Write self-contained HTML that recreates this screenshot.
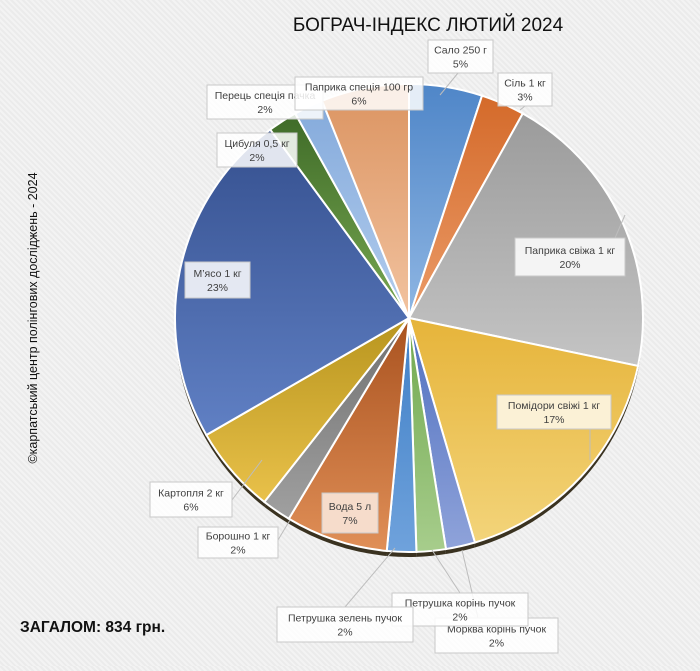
<!DOCTYPE html>
<html><head><meta charset="utf-8"><style>
html,body{margin:0;padding:0}
body{width:700px;height:666px;overflow:hidden;font-family:"Liberation Sans","Noto Sans CJK SC",sans-serif;
background:repeating-linear-gradient(45deg,#f3f3f3 0 2px,#ebebeb 2px 4px);}
</style></head><body>
<svg width="700" height="666" viewBox="0 0 700 666" id="chart">
<defs id="defs"></defs>
<text x="428" y="31" text-anchor="middle" font-size="19" fill="#111">БОГРАЧ-ІНДЕКС ЛЮТИЙ 2024</text>
<text transform="translate(37,318) rotate(-90)" text-anchor="middle" font-size="12.5" fill="#111">©карпатський центр полінгових досліджень - 2024</text>
<text x="20" y="632" font-size="15.5" font-weight="bold" fill="#111">ЗАГАЛОМ: 834 грн.</text>
<g id="rim"></g><g id="slices"></g>
<g stroke="#bdbdbd" stroke-width="1" fill="none">
<path d="M458,73 L440,95"/><path d="M525,106 L520,110"/><path d="M615,238 L625,215"/>
<path d="M590,429 L590,460"/><path d="M232,500 L262,460"/><path d="M278,540 L290,520"/>
<path d="M345,607 L395,548"/><path d="M460,593 L432,550"/><path d="M478,618 L462,550"/>
</g>
<g id="labels"></g>
</svg>
<script>
const categories=["Сало 250 г","Сіль 1 кг","Паприка свіжа 1 кг","Помідори свіжі 1 кг","Морква корінь пучок","Петрушка корінь пучок","Петрушка зелень пучок","Вода 5 л","Борошно 1 кг","Картопля 2 кг","М’ясо 1 кг","Цибуля 0,5 кг","Перець спеція пачка","Паприка спеція 100 гр"];
const values=[5,3,20,17,2,2,2,7,2,6,23,2,2,6];
const percentLabels=["5%","3%","20%","17%","2%","2%","2%","7%","2%","6%","23%","2%","2%","6%"];
const colors=[["#4f86c8","#8fb6e3"],["#d46a2a","#eb9b68"],["#9b9b9b","#c4c4c4"],["#e6b43a","#f3d47a"],["#4f6fbf","#8fa3da"],["#70a84e","#a7cd8c"],["#3f7fc6","#6fa2dc"],["#a9521f","#e08f57"],["#707070","#a0a0a0"],["#b8951e","#e9c14a"],["#35508f","#6080c4"],["#3f6b28","#78a852"],["#84aadb","#b3cdee"],["#db9360","#f2c3a0"]];
const boxes=[[428,40,65,33],[498,73,54,33],[515,238,110,38],[497,395,114,34],[435,618,123,35],[392,593,136,33],[277,607,136,35],[322,493,56,40],[198,527,80,31],[150,482,82,35],[185,262,65,36],[217,133,80,34],[207,85,116,34],[295,77,128,33]];
const cx=409,cy=318,r=234,NS="http://www.w3.org/2000/svg";
const total=values.reduce((a,b)=>a+b,0);
function pt(a,rr,oy){return [cx+rr*Math.sin(a),cy+(oy||0)-rr*Math.cos(a)];}
function arc(a0,a1,oy){const p0=pt(a0,r,oy),p1=pt(a1,r,oy);const lg=(a1-a0)>Math.PI?1:0;
return `M${cx},${cy+oy} L${p0[0]},${p0[1]} A${r},${r} 0 ${lg} 1 ${p1[0]},${p1[1]} Z`;}
const defs=document.getElementById('defs'),rim=document.getElementById('rim'),sl=document.getElementById('slices'),lb=document.getElementById('labels');
let a=0;
values.forEach((v,i)=>{
  const a1=a+v/total*2*Math.PI;
  const g=document.createElementNS(NS,'linearGradient');g.id='g'+i;g.setAttribute('x1','0');g.setAttribute('y1','0');g.setAttribute('x2','0');g.setAttribute('y2','1');
  g.innerHTML=`<stop offset="0" stop-color="${colors[i][0]}"/><stop offset="1" stop-color="${colors[i][1]}"/>`;defs.appendChild(g);
  const rp=document.createElementNS(NS,'path');rp.setAttribute('d',arc(a,a1,5));rp.setAttribute('fill','#3a3220');
  
  
  rim.appendChild(rp);
  const p=document.createElementNS(NS,'path');p.setAttribute('d',arc(a,a1,0));p.setAttribute('fill','url(#g'+i+')');p.setAttribute('stroke','#fff');p.setAttribute('stroke-width','2');
  
  
  sl.appendChild(p);
  const b=boxes[i];
  const grp=document.createElementNS(NS,'g');
  
  
  const rc=document.createElementNS(NS,'rect');rc.setAttribute('x',b[0]);rc.setAttribute('y',b[1]);rc.setAttribute('width',b[2]);rc.setAttribute('height',b[3]);
  rc.setAttribute('fill',i==3?'#fbf1d6':(i==7?'#f6dccb':'rgba(255,255,255,0.85)'));rc.setAttribute('stroke','#c8c8c8');grp.appendChild(rc);
  const t1=document.createElementNS(NS,'text');t1.setAttribute('x',b[0]+b[2]/2);t1.setAttribute('y',b[1]+b[3]/2-3);t1.setAttribute('text-anchor','middle');t1.setAttribute('font-size','10.5');t1.setAttribute('fill','#404040');t1.textContent=categories[i];grp.appendChild(t1);
  const t2=document.createElementNS(NS,'text');t2.setAttribute('x',b[0]+b[2]/2);t2.setAttribute('y',b[1]+b[3]/2+11);t2.setAttribute('text-anchor','middle');t2.setAttribute('font-size','10.5');t2.setAttribute('fill','#404040');t2.textContent=percentLabels[i];grp.appendChild(t2);
  lb.appendChild(grp);
  a=a1;
});
</script>
</body></html>
